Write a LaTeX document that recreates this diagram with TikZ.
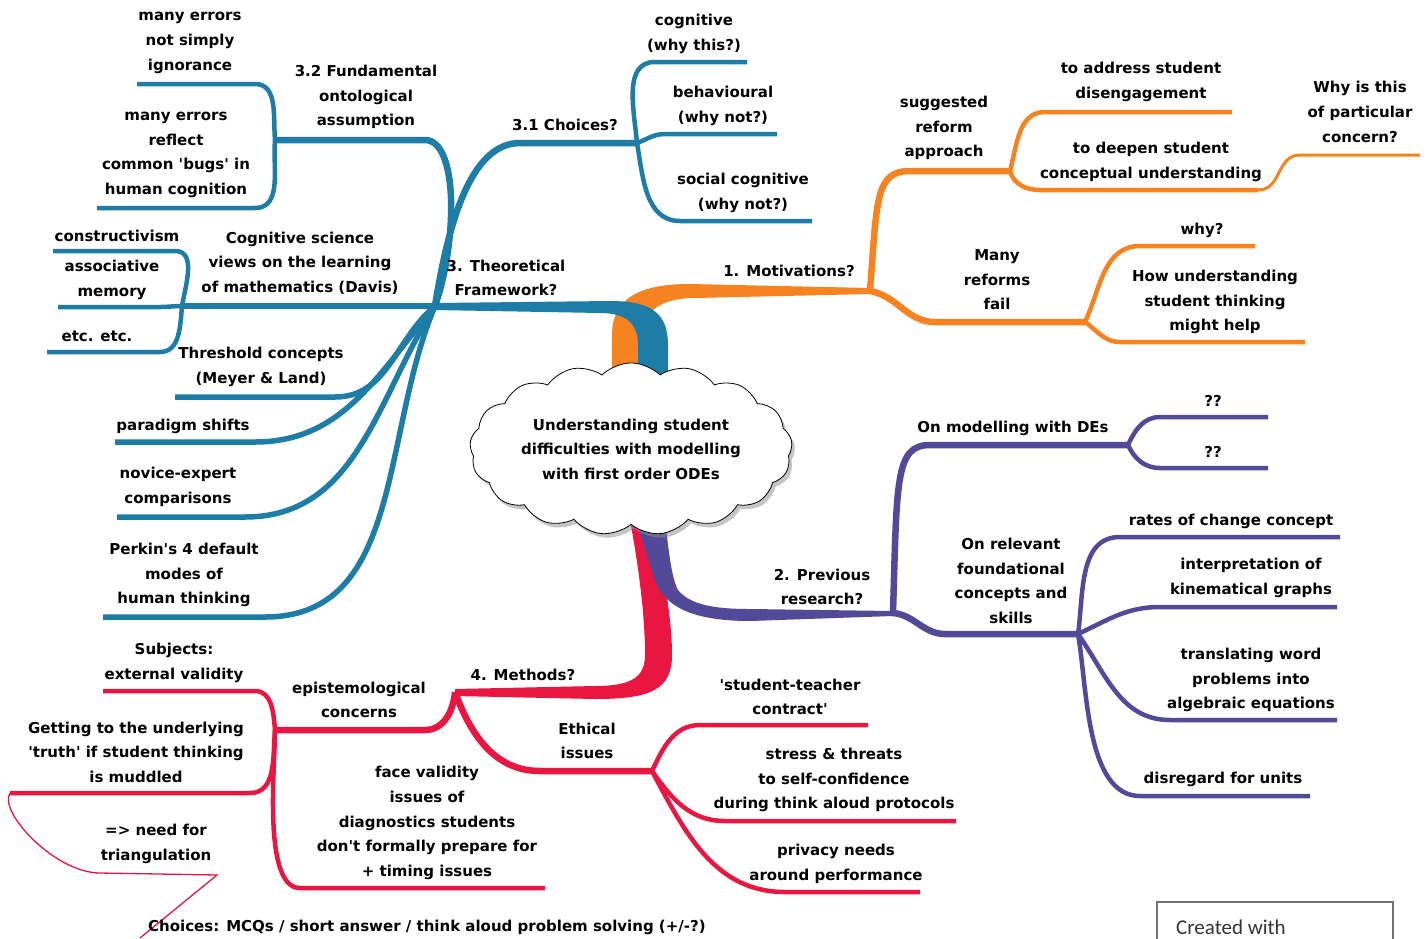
\documentclass[tikz,border=0pt]{standalone}
\usepackage{fontspec}
\newfontfamily\mapfont{DejaVu Sans}
\newfontfamily\credfont{Carlito}
\usetikzlibrary{shapes.symbols,shadows}

\definecolor{mapblue}{RGB}{30,125,166}
\definecolor{maporange}{RGB}{246,130,32}
\definecolor{mappurple}{RGB}{82,74,152}
\definecolor{mapred}{RGB}{233,22,66}

\tikzset{
  txt/.style={align=center,inner sep=0pt,font=\mapfont\bfseries\fontsize{15}{24.6}\selectfont},
  twig/.style={line width=4.5pt},
  bough/.style={line width=6.5pt},
  fan/.style={line width=5.5pt},
}

\begin{document}
\begin{tikzpicture}[x=1pt,y=1pt]
\fill[white] (0,0) rectangle (1427,-938);
\useasboundingbox (0,0) rectangle (1427,-938);

% hubs of the four main branches
\coordinate (h1) at (870,-291);
\coordinate (h2) at (893,-613);
\coordinate (h3) at (435,-306);
\coordinate (h4) at (455,-692);

% trunks
\fill[maporange] (612,-390) -- (612,-335) .. controls (612,-298) and (640,-284) .. (690,-284)
  -- (870,-288) -- (870,-294) -- (695,-298) .. controls (660,-298) and (641,-312) .. (641,-340)
  -- (641,-390) -- cycle;
\fill[mapblue] (668,-390) -- (668,-345) .. controls (668,-312) and (650,-301) .. (610,-301)
  -- (435,-303) -- (435,-310) -- (600,-313) .. controls (628,-313) and (638,-325) .. (638,-345)
  -- (638,-390) -- cycle;
\fill[mapred] (627,-505) .. controls (640,-570) and (645,-620) .. (645,-655)
  .. controls (645,-678) and (630,-686) .. (595,-686) -- (455,-689) -- (455,-696)
  -- (595,-699) .. controls (650,-699) and (672,-690) .. (672,-655)
  .. controls (672,-610) and (660,-560) .. (650,-505) -- cycle;
\fill[mappurple] (663,-505) .. controls (668,-540) and (670,-575) .. (678,-590)
  .. controls (690,-605) and (715,-609) .. (750,-609) -- (893,-611) -- (893,-616)
  -- (750,-621) .. controls (700,-621) and (665,-610) .. (655,-580)
  .. controls (648,-560) and (640,-530) .. (630,-505) -- cycle;

% 3. theoretical framework
\coordinate (j32) at (275,-140);
\coordinate (j31) at (637,-143);
\coordinate (jcs) at (182,-306);
\draw[bough,mapblue] (h3) .. controls (458,-240) and (458,-140) .. (425,-140) -- (j32);
\draw[bough,mapblue] (h3) .. controls (448,-225) and (470,-143) .. (520,-143) -- (j31);
\draw[bough,mapblue] (h3) -- (jcs);
\foreach \n/\sx/\ex/\y/\oa in {thr/335/175/397/-140, par/255/115/442/-130,
    nov/245/117/517/-122, per/265/103/617/-113}{
  \coordinate (\n-s) at (\sx,-\y);
  \coordinate (\n-e) at (\ex,-\y);
  \draw[fan,mapblue] (h3) to[out=\oa,in=0] (\n-s) -- (\n-e);
}
\foreach \j/\n/\sx/\ex/\y/\oa/\ia/\lo in {j32/ign/255/137/84/95/0/1,
    j32/bug/255/97/208/-95/0/1, j31/cog/655/747/62/95/180/1,
    j31/beh/665/777/134/20/180/1, j31/soc/680/812/221/-80/180/1,
    jcs/con/175/53/251/80/0/1, jcs/ass/160/58/307/180/0/1,
    jcs/etc/160/47/352/-95/0/1}{
  \coordinate (\n-s) at (\sx,-\y);
  \coordinate (\n-e) at (\ex,-\y);
  \draw[twig,mapblue] (\j) to[out=\oa,in=\ia,looseness=\lo] (\n-s) -- (\n-e);
}

% 1. motivations
\coordinate (j1a) at (1010,-171);
\coordinate (j1b) at (1085,-322);
\draw[bough,maporange] (h1) .. controls (877,-200) and (875,-171) .. (910,-171) -- (j1a);
\draw[bough,maporange] (h1) to[out=-10,in=180] (935,-322) -- (j1b);
\foreach \j/\n/\sx/\ex/\y/\oa/\ia/\lo in {j1a/addr/1045/1232/112/75/180/1,
    j1a/deep/1040/1258/190/-75/180/1, j1b/whyq/1140/1255/246/65/180/1,
    j1b/how/1120/1305/342/-35/180/1}{
  \coordinate (\n-s) at (\sx,-\y);
  \coordinate (\n-e) at (\ex,-\y);
  \draw[twig,maporange] (\j) to[out=\oa,in=\ia,looseness=\lo] (\n-s) -- (\n-e);
}
\coordinate (why-s) at (1300,-155);
\coordinate (why-e) at (1420,-155);
\draw[maporange,line width=3pt] (deep-e) .. controls (1282,-190) and (1276,-155) .. (why-s) -- (why-e);

% 2. previous research
\coordinate (j2a) at (1128,-445);
\coordinate (j2b) at (1078,-634);
\draw[bough,mappurple] (h2) .. controls (897,-480) and (895,-445) .. (930,-445) -- (j2a);
\draw[bough,mappurple] (h2) to[out=-5,in=180] (945,-634) -- (j2b);
\foreach \j/\n/\sx/\ex/\y/\oa/\ia/\lo in {j2a/qa/1160/1268/417/65/180/1,
    j2a/qb/1160/1268/468/-65/180/1, j2b/rate/1120/1340/537/82/180/1,
    j2b/kin/1160/1337/607/25/180/1, j2b/tra/1170/1337/720/-55/180/1,
    j2b/uni/1140/1310/796/-80/180/0.8}{
  \coordinate (\n-s) at (\sx,-\y);
  \coordinate (\n-e) at (\ex,-\y);
  \draw[twig,mappurple] (\j) to[out=\oa,in=\ia,looseness=\lo] (\n-s) -- (\n-e);
}

% 4. methods
\coordinate (j4a) at (275,-730);
\coordinate (j4b) at (652,-771);
\draw[bough,mapred] (h4) to[out=-95,in=0] (425,-730) -- (j4a);
\draw[bough,mapred] (h4) to[out=-70,in=180] (540,-771) -- (j4b);
\foreach \j/\n/\sx/\ex/\y/\oa/\ia/\lo in {j4a/sub/255/103/691/95/0/1,
    j4a/tru/250/10/793/-95/0/1, j4a/fac/300/545/888/-90/180/0.6,
    j4b/stc/700/868/725/65/180/1, j4b/str/725/956/821/-55/180/1,
    j4b/pri/785/920/892/-62/180/1}{
  \coordinate (\n-s) at (\sx,-\y);
  \coordinate (\n-e) at (\ex,-\y);
  \draw[twig,mapred] (\j) to[out=\oa,in=\ia,looseness=\lo] (\n-s) -- (\n-e);
}
\coordinate (tri-s) at (100,-873);
\coordinate (tri-e) at (217,-875);
\coordinate (cho-tip) at (140,-938);
\draw[mapred,line width=1.3pt] (tru-e) .. controls (-2,-812) and (55,-873) .. (tri-s)
  -- (tri-e) -- (cho-tip);

% central topic
\node[txt,cloud,cloud puffs=17,cloud puff arc=90,aspect=2.1,draw=black,line width=0.8pt,
  fill=white,inner sep=2pt,minimum width=300pt,minimum height=150pt,
  drop shadow={shadow xshift=3pt,shadow yshift=-4pt,fill=black!45}] (core) at (631,-449)
  {Understanding student\\difficulties with modelling\\with first order ODEs};

% labels
\node[txt] (t-ign) at (190,-43) {many errors\\not simply\\ignorance};
\node[txt] (t-32) at (366,-97) {3.2 Fundamental\\ontological\\assumption};
\node[txt] (t-bug) at (176,-155) {many errors\\reflect\\common 'bugs' in\\human cognition};
\node[txt] (t-cog) at (694,-34) {cognitive\\(why this?)};
\node[txt] (t-31) at (565,-125) {3.1 Choices?};
\node[txt] (t-beh) at (723,-106) {behavioural\\(why not?)};
\node[txt] (t-soc) at (743,-193) {social cognitive\\(why not?)};
\node[txt] (t-con) at (117,-236) {constructivism};
\node[txt] (t-cs) at (300,-263) {Cognitive science\\views on the learning\\of mathematics (Davis)};
\node[txt] (t-ass) at (112,-280) {associative\\memory};
\node[txt] (t-3) at (506,-278) {3. Theoretical\\Framework?};
\node[txt] (t-etc) at (97,-336) {etc. etc.};
\node[txt] (t-thr) at (261,-367) {Threshold concepts\\(Meyer \& Land)};
\node[txt] (t-par) at (183,-426) {paradigm shifts};
\node[txt] (t-nov) at (178,-487) {novice-expert\\comparisons};
\node[txt] (t-per) at (184,-575) {Perkin's 4 default\\modes of\\human thinking};

\node[txt] (t-1) at (789,-271) {1. Motivations?};
\node[txt] (t-sug) at (944,-128) {suggested\\reform\\approach};
\node[txt] (t-addr) at (1141,-82) {to address student\\disengagement};
\node[txt] (t-why) at (1360,-112) {Why is this\\of particular\\concern?};
\node[txt] (t-deep) at (1151,-162) {to deepen student\\conceptual understanding};
\node[txt] (t-fail) at (997,-280) {Many\\reforms\\fail};
\node[txt] (t-whyq) at (1202,-230) {why?};
\node[txt] (t-how) at (1215,-302) {How understanding\\student thinking\\might help};

\node[txt] (t-2) at (822,-587) {2. Previous\\research?};
\node[txt] (t-mod) at (1013,-428) {On modelling with DEs};
\node[txt] (t-qa) at (1213,-401) {??};
\node[txt] (t-qb) at (1213,-452) {??};
\node[txt] (t-rel) at (1011,-581) {On relevant\\foundational\\concepts and\\skills};
\node[txt] (t-rate) at (1231,-521) {rates of change concept};
\node[txt] (t-kin) at (1251,-578) {interpretation of\\kinematical graphs};
\node[txt] (t-tra) at (1251,-680) {translating word\\problems into\\algebraic equations};
\node[txt] (t-uni) at (1223,-779) {disregard for units};

\node[txt] (t-4) at (523,-675) {4. Methods?};
\node[txt] (t-epi) at (359,-700) {epistemological\\concerns};
\node[txt] (t-sub) at (174,-663) {Subjects:\\external validity};
\node[txt] (t-tru) at (136,-752) {Getting to the underlying\\'truth' if student thinking\\is muddled};
\node[txt] (t-tri) at (156,-844) {=> need for\\triangulation};
\node[txt] (t-fac) at (427,-823) {face validity\\issues of\\diagnostics students\\don't formally prepare for\\+ timing issues};
\node[txt] (t-eth) at (587,-741) {Ethical\\issues};
\node[txt] (t-stc) at (790,-697) {'student-teacher\\contract'};
\node[txt] (t-str) at (834,-780) {stress \& threats\\to self-confidence\\during think aloud protocols};
\node[txt] (t-pri) at (836,-864) {privacy needs\\around performance};
\node[txt,anchor=west] (t-cho) at (148,-927) {Choices: MCQs / short answer / think aloud problem solving (+/-?)};

% credit box
\draw[black!55,line width=1.2pt] (1157,-902) rectangle (1393,-950);
\node[anchor=west,inner sep=0pt,text=black!80,font=\credfont\fontsize{21}{24}\selectfont] (t-cred) at (1176,-927) {Created with};
\end{tikzpicture}
\end{document}
